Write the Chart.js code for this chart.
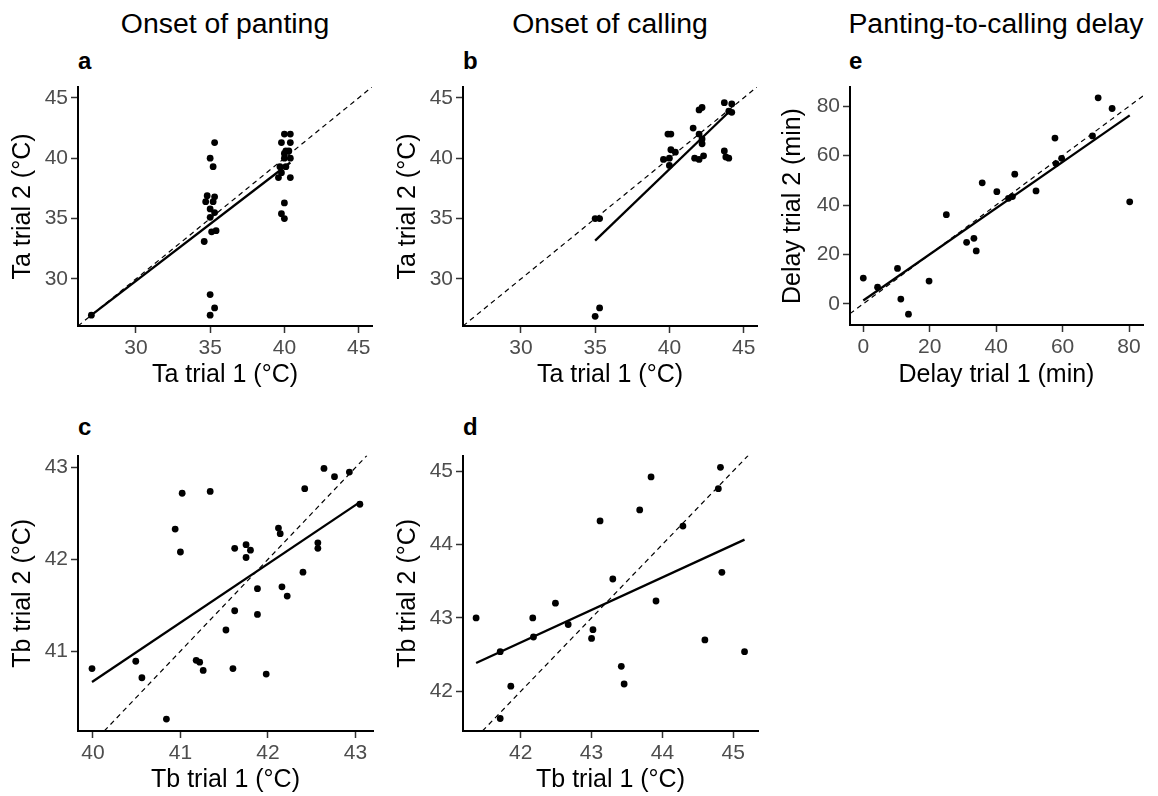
<!DOCTYPE html>
<html lang="en">
<head>
<meta charset="UTF-8">
<title>Repeatability of panting and calling onset</title>
<script src="https://cdn.jsdelivr.net/npm/chart.js"></script>
<style>
  body { margin: 0; width: 1158px; height: 796px; background: #fff; position: relative; overflow: hidden;
         font-family: "Liberation Sans", Arial, Helvetica, sans-serif; }
  .col-title { position: absolute; top: 9px; width: 390px; font-size: 28.4px; line-height: 28px; text-align: center; color: #000; }
  .tag { position: absolute; font-size: 24px; line-height: 24px; font-weight: bold; color: #000; }
  canvas { position: absolute; }
</style>
</head>
<body>
<div class="col-title" style="left:30px">Onset of panting</div>
<div class="col-title" style="left:415px">Onset of calling</div>
<div class="col-title" style="left:801px">Panting-to-calling delay</div>
<div class="tag" style="left:78px; top:49px">a</div>
<div class="tag" style="left:463px; top:49px">b</div>
<div class="tag" style="left:849px; top:49px">e</div>
<div class="tag" style="left:78px; top:415px">c</div>
<div class="tag" style="left:463px; top:415px">d</div>

<script>
// panel a: Ta at onset of panting
const aTrial1 = [27.0, 35.3, 35.0, 35.2, 34.8, 35.3, 34.7, 35.2, 35.0, 35.3, 35.0, 35.4, 35.1, 34.6, 35.0, 35.3, 35.0,
                 40.0, 40.4, 39.8, 40.4, 40.1, 40.0, 40.4, 40.0, 40.1, 39.7, 39.8, 39.6, 40.4, 40.0, 39.8, 40.0, 40.3];
const aTrial2 = [27.0, 41.3, 40.0, 39.3, 36.9, 36.8, 36.4, 36.4, 35.8, 35.5, 35.1, 34.0, 33.9, 33.1, 28.7, 27.6, 27.0,
                 42.0, 42.0, 41.3, 41.3, 40.6, 40.4, 40.0, 40.0, 39.3, 39.3, 38.8, 38.4, 38.4, 36.3, 35.4, 35.0, 40.6];
const aFit = [1.51, 0.944];   // intercept, slope of the fitted line as drawn

// panel b: Ta at onset of calling
const bTrial1 = [35.0, 35.3, 35.0, 35.3, 39.9, 40.1, 39.6, 40.0, 40.0, 40.1, 40.4, 41.6, 42.0, 42.2, 42.0, 42.2,
                 42.2, 41.7, 42.0, 42.3, 43.7, 44.2, 44.0, 44.2, 43.7, 43.8, 44.0];
const bTrial2 = [26.9, 27.6, 35.0, 35.0, 42.0, 42.0, 39.9, 40.0, 39.4, 40.7, 40.5, 42.5, 44.0, 44.2, 42.0, 41.6,
                 41.2, 40.0, 39.9, 40.2, 44.6, 44.5, 43.9, 43.8, 40.6, 40.1, 40.0];
const bFit = [-8.23, 1.183];

// panel e: panting-to-calling delay (min)
const eTrial1 = [0.0, 4.3, 10.3, 11.3, 13.6, 19.8, 25.0, 31.1, 33.3, 34.0, 35.8, 40.2, 45.6, 43.7, 44.9, 52.0,
                 57.7, 58.0, 59.7, 69.0, 70.7, 74.9, 80.2];
const eTrial2 = [10.4, 6.7, 14.3, 1.9, -4.2, 9.2, 36.1, 24.9, 26.5, 21.4, 49.0, 45.4, 52.5, 42.7, 43.4, 45.7,
                 67.1, 56.8, 58.9, 68.0, 83.4, 79.1, 41.3];
const eFit = [1.3, 0.935];

// panel c: Tb at onset of panting
const cTrial1 = [39.99, 40.49, 40.56, 40.84, 40.94, 41.00, 41.02, 41.34, 41.18, 41.22, 41.26, 41.52, 41.60, 41.62,
                 41.62, 41.75, 41.75, 41.80, 41.88, 41.88, 41.98, 42.12, 42.14, 42.16, 42.22, 42.40, 42.42, 42.57,
                 42.57, 42.64, 42.76, 42.93, 43.05];
const cTrial2 = [40.81, 40.89, 40.71, 40.26, 42.33, 42.08, 42.72, 42.74, 40.90, 40.88, 40.79, 41.23, 40.81, 42.12,
                 41.44, 42.16, 42.02, 42.10, 41.68, 41.40, 40.75, 42.34, 42.28, 41.70, 41.60, 41.86, 42.77, 42.18,
                 42.12, 42.99, 42.90, 42.95, 42.60];
const cFit = [15.05, 0.6405];

// panel d: Tb at onset of calling
const dTrial1 = [41.37, 41.71, 41.86, 41.71, 42.17, 42.18, 42.49, 42.67, 43.00, 43.02, 43.12, 43.30, 43.42, 43.46,
                 43.68, 43.84, 43.91, 44.29, 44.60, 44.79, 44.82, 44.84, 45.16];
const dTrial2 = [43.00, 42.54, 42.07, 41.63, 43.00, 42.74, 43.20, 42.91, 42.72, 42.84, 44.32, 43.53, 42.34, 42.10,
                 44.47, 44.92, 43.23, 44.25, 42.70, 44.76, 45.05, 43.62, 42.54];
const dFit = [24.06, 0.443];

// axis ranges and tick labels
const taRange = [26.1, 45.9];
const taTicks = [30, 35, 40, 45];
const delayXRange = [-4.0, 84.2];
const delayYRange = [-8.6, 87.8];
const delayTicks = [0, 20, 40, 60, 80];
const cXRange = [39.83, 43.2];
const cYRange = [40.13, 43.13];
const cXTicks = [40, 41, 42, 43];
const cYTicks = [41, 42, 43];
const dXRange = [41.185, 45.35];
const dYRange = [41.46, 45.21];
const dTicks = [42, 43, 44, 45];

const FONT = '"Liberation Sans", Arial, Helvetica, sans-serif';

function axis(range, ticks, title, fitSize, horizontal, titlePad) {
  return {
    type: 'linear',
    min: range[0],
    max: range[1],
    afterBuildTicks: s => { s.ticks = ticks.map(v => ({ value: v })); },
    afterFit: s => { if (horizontal) s.height = fitSize; else s.width = fitSize; },
    grid: { display: true, drawOnChartArea: false, drawTicks: true, tickLength: 7, tickWidth: 1.5, tickColor: '#333' },
    border: { display: true, color: '#000', width: 2 },
    ticks: { color: '#4d4d4d', font: { family: FONT, size: 21 }, padding: 3, maxRotation: 0 },
    title: { display: true, text: title, color: '#000', font: { family: FONT, size: 25 }, padding: titlePad }
  };
}

function panel(p) {
  const canvas = document.createElement('canvas');
  canvas.width = p.w;
  canvas.height = p.h;
  canvas.style.left = p.left + 'px';
  canvas.style.top = p.top + 'px';
  document.body.appendChild(canvas);

  // fitted line spans the range of trial-1 values; dashed line is y = x across the panel
  const x0 = Math.min(...p.x), x1 = Math.max(...p.x);
  const lo = Math.max(p.xRange[0], p.yRange[0]), hi = Math.min(p.xRange[1], p.yRange[1]);

  new Chart(canvas, {
    type: 'scatter',
    data: {
      datasets: [
        { data: p.x.map((v, i) => ({ x: v, y: p.y[i] })), pointRadius: 3.4, pointBackgroundColor: '#000',
          pointBorderWidth: 0, order: 1 },
        { data: [{ x: x0, y: p.fit[0] + p.fit[1] * x0 }, { x: x1, y: p.fit[0] + p.fit[1] * x1 }],
          showLine: true, borderColor: '#000', borderWidth: 2.3, pointRadius: 0, order: 2 },
        { data: [{ x: lo, y: lo }, { x: hi, y: hi }], showLine: true, borderColor: '#000', borderWidth: 1.2,
          borderDash: [5, 4], pointRadius: 0, order: 3 }
      ]
    },
    options: {
      responsive: false,
      animation: false,
      events: [],
      layout: { padding: { top: p.padTop, right: p.padRight, left: 0, bottom: 0 } },
      plugins: { legend: { display: false }, tooltip: { enabled: false } },
      scales: {
        x: axis(p.xRange, p.xTicks, p.xTitle, p.xH, true, { top: 0, bottom: p.xTitlePad }),
        y: axis(p.yRange, p.yTicks, p.yTitle, p.yW, false, { top: 8, bottom: 0 })
      }
    }
  });
}

panel({ left: 0, top: 70, w: 385, h: 330, padTop: 17, padRight: 13, yW: 78, xH: 74, xTitlePad: 10,
        x: aTrial1, y: aTrial2, fit: aFit, xRange: taRange, yRange: taRange, xTicks: taTicks, yTicks: taTicks,
        xTitle: 'Ta trial 1 (°C)', yTitle: 'Ta trial 2 (°C)' });
panel({ left: 385, top: 70, w: 385, h: 330, padTop: 17, padRight: 13, yW: 78, xH: 74, xTitlePad: 10,
        x: bTrial1, y: bTrial2, fit: bFit, xRange: taRange, yRange: taRange, xTicks: taTicks, yTicks: taTicks,
        xTitle: 'Ta trial 1 (°C)', yTitle: 'Ta trial 2 (°C)' });
panel({ left: 770, top: 70, w: 388, h: 330, padTop: 17, padRight: 15, yW: 80, xH: 75, xTitlePad: 10,
        x: eTrial1, y: eTrial2, fit: eFit, xRange: delayXRange, yRange: delayYRange, xTicks: delayTicks, yTicks: delayTicks,
        xTitle: 'Delay trial 1 (min)', yTitle: 'Delay trial 2 (min)' });
panel({ left: 0, top: 440, w: 385, h: 356, padTop: 12, padRight: 12, yW: 78, xH: 65, xTitlePad: 1,
        x: cTrial1, y: cTrial2, fit: cFit, xRange: cXRange, yRange: cYRange, xTicks: cXTicks, yTicks: cYTicks,
        xTitle: 'Tb trial 1 (°C)', yTitle: 'Tb trial 2 (°C)' });
panel({ left: 385, top: 440, w: 385, h: 356, padTop: 14, padRight: 12, yW: 78, xH: 65, xTitlePad: 1,
        x: dTrial1, y: dTrial2, fit: dFit, xRange: dXRange, yRange: dYRange, xTicks: dTicks, yTicks: dTicks,
        xTitle: 'Tb trial 1 (°C)', yTitle: 'Tb trial 2 (°C)' });
</script>
</body>
</html>
